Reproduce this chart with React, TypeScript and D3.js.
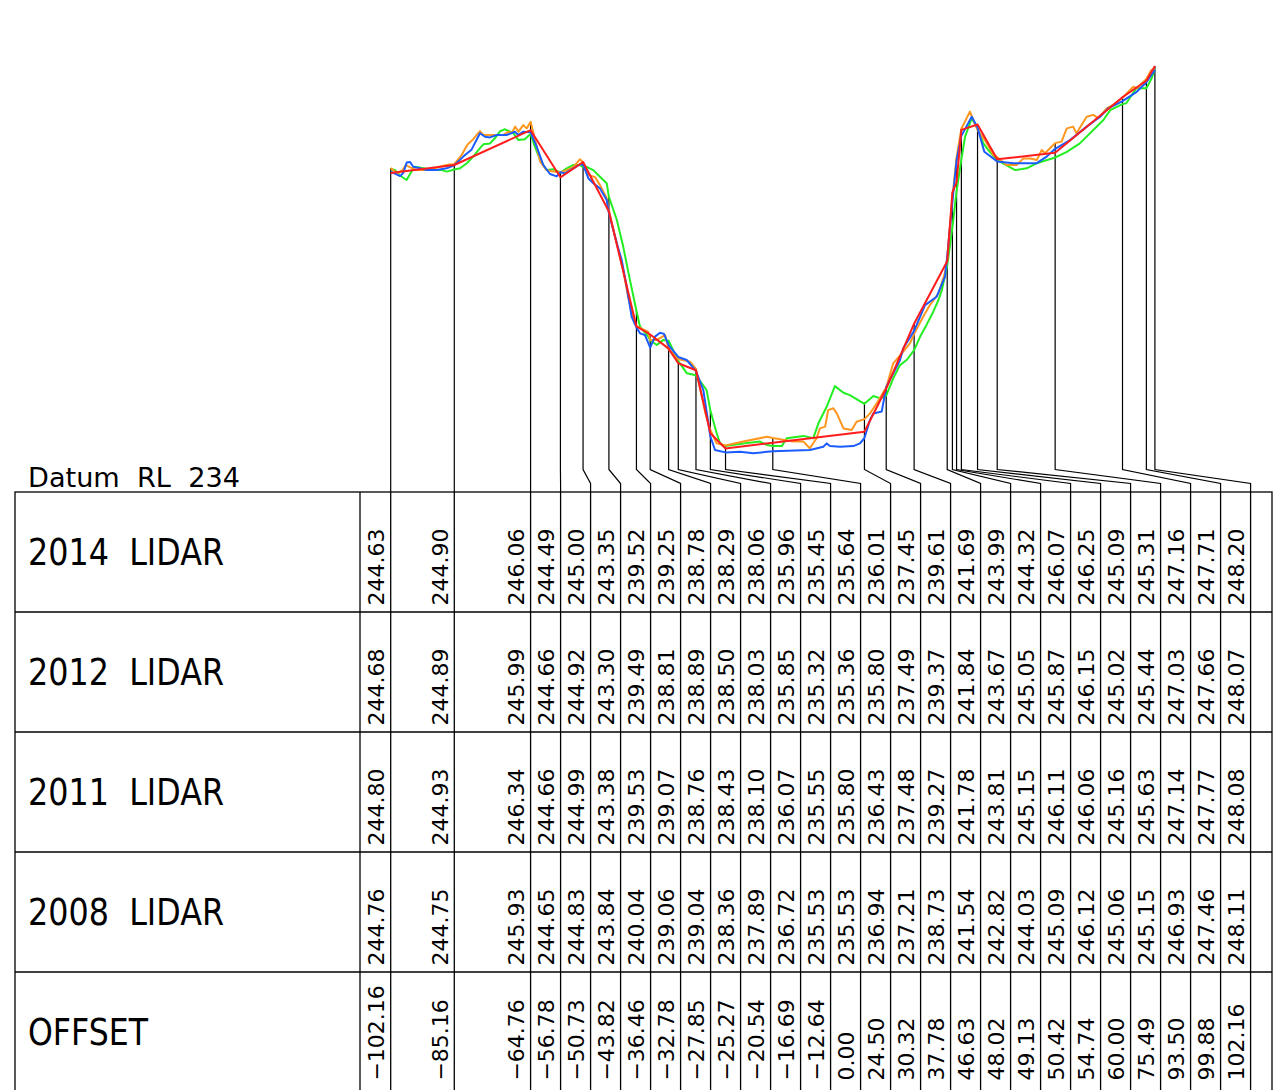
import React from 'react';
import * as d3 from 'd3';

// Offsets (m) of the tabulated stations
const OFFSETS = [-102.16, -85.16, -64.76, -56.78, -50.73, -43.82, -36.46, -32.78, -27.85, -25.27, -20.54, -16.69, -12.64, 0.0, 24.5, 30.32, 37.78, 46.63, 48.02, 49.13, 50.42, 54.74, 60.0, 75.49, 93.5, 99.88, 102.16];

// Tabulated reduced levels per survey
const LIDAR_2014 = [244.63, 244.9, 246.06, 244.49, 245.0, 243.35, 239.52, 239.25, 238.78, 238.29, 238.06, 235.96, 235.45, 235.64, 236.01, 237.45, 239.61, 241.69, 243.99, 244.32, 246.07, 246.25, 245.09, 245.31, 247.16, 247.71, 248.2];
const LIDAR_2012 = [244.68, 244.89, 245.99, 244.66, 244.92, 243.3, 239.49, 238.81, 238.89, 238.5, 238.03, 235.85, 235.32, 235.36, 235.8, 237.49, 239.37, 241.84, 243.67, 245.05, 245.87, 246.15, 245.02, 245.44, 247.03, 247.66, 248.07];
const LIDAR_2011 = [244.8, 244.93, 246.34, 244.66, 244.99, 243.38, 239.53, 239.07, 238.76, 238.43, 238.1, 236.07, 235.55, 235.8, 236.43, 237.48, 239.27, 241.78, 243.81, 245.15, 246.11, 246.06, 245.16, 245.63, 247.14, 247.77, 248.08];
const LIDAR_2008 = [244.76, 244.75, 245.93, 244.65, 244.83, 243.84, 240.04, 239.06, 239.04, 238.36, 237.89, 236.72, 235.53, 235.53, 236.94, 237.21, 238.73, 241.54, 242.82, 244.03, 245.09, 246.12, 245.06, 245.15, 246.93, 247.46, 248.11];

// Intermediate profile readings between stations [offset, RL]
const TRACE_2012 = [
  [-99.65, 244.53], [-98.77, 244.64], [-97.89, 244.98], [-97.0, 245.0], [-96.12, 244.84], [-94.33, 244.79], [-92.54, 244.73], [-89.87, 244.73], [-87.19, 244.79],
  [-82.75, 245.18], [-80.51, 245.42], [-78.29, 245.96], [-76.95, 245.84], [-75.61, 245.82], [-73.82, 245.9], [-71.15, 245.9], [-68.93, 246.01], [-68.05, 245.9], [-66.71, 246.01],
  [-63.13, 245.51], [-61.36, 244.9], [-59.57, 244.6], [-57.78, 244.52],
  [-55.56, 244.62], [-53.34, 244.79], [-51.55, 244.92],
  [-49.33, 244.46], [-47.99, 244.29], [-46.2, 244.12], [-44.41, 243.73],
  [-42.65, 242.73], [-41.31, 242.12], [-40.4, 241.73], [-39.06, 240.84], [-37.73, 239.84],
  [-35.51, 239.29], [-34.17, 239.23],
  [-31.5, 239.18], [-30.16, 239.31], [-29.09, 239.27],
  [-25.7, 238.57], [-23.02, 238.4],
  [-18.58, 237.4],
  [-15.45, 235.4],
  [-8.77, 235.34], [-5.21, 235.29],
  [9.95, 235.4], [13.5, 235.51], [14.41, 235.62], [15.29, 235.53], [17.97, 235.51], [21.52, 235.53], [23.32, 235.62],
  [25.99, 236.4], [26.87, 236.62], [29.12, 236.68],
  [32.22, 237.96], [34.01, 238.4], [34.89, 238.79],
  [40.7, 240.23], [43.82, 240.51], [46.04, 241.18],
  [53.18, 246.51],
  [56.55, 245.34],
  [64.3, 244.96], [70.56, 244.96], [73.24, 245.18],
  [79.47, 245.73], [83.93, 246.18], [87.49, 246.51], [89.71, 246.79],
  [97.3, 247.34],
];
const TRACE_2011 = [
  [-100.4, 244.62], [-99.0, 244.73], [-98.1, 244.9], [-97.1, 244.83], [-95.2, 244.73], [-92.5, 244.73], [-89.0, 244.84], [-87.2, 244.9],
  [-83.2, 245.23], [-81.7, 245.57], [-80.1, 245.76], [-78.3, 246.03], [-77.4, 245.9], [-74.7, 245.9], [-72.1, 245.9], [-70.7, 246.01], [-69.8, 245.96], [-68.9, 246.18], [-68.0, 246.01], [-66.7, 246.23], [-65.8, 246.12],
  [-63.1, 245.51], [-62.2, 245.01], [-60.5, 244.73], [-58.7, 244.68],
  [-55.1, 244.73], [-53.3, 244.84], [-51.6, 245.09],
  [-49.3, 244.57], [-47.5, 244.49], [-46.2, 244.23], [-44.4, 243.79],
  [-40.0, 241.4], [-38.7, 240.51], [-36.9, 239.62],
  [-33.3, 239.34],
  [-31.0, 239.07], [-28.8, 239.23],
  [-22.1, 238.34],
  [-18.0, 236.62],
  [-15.0, 235.62],
  [-7.9, 235.68], [-1.6, 235.84],
  [5.5, 235.68], [8.2, 235.68], [9.9, 235.46], [11.7, 235.79], [12.6, 236.12], [14.0, 236.18], [14.8, 236.73], [16.2, 236.79], [17.1, 236.62], [18.9, 236.12], [21.1, 236.07], [22.4, 236.34],
  [26.0, 236.62], [27.8, 236.96],
  [32.2, 238.29], [34.5, 238.62], [36.7, 238.96],
  [40.2, 239.84], [42.0, 240.23], [44.3, 240.62], [46.0, 241.29],
  [52.7, 246.68],
  [56.7, 245.73], [59.0, 245.23],
  [62.5, 244.9], [65.2, 244.9], [67.0, 245.12], [68.8, 245.12], [70.6, 245.07], [71.9, 245.4], [72.8, 245.29], [74.1, 245.46],
  [77.2, 245.68], [78.6, 246.12], [80.3, 246.18], [81.2, 245.96], [83.9, 246.51], [85.7, 246.57], [87.0, 246.46], [89.3, 246.79], [91.0, 246.9],
  [96.4, 247.51], [97.3, 247.46],
  [101.2, 248.07],
];
const TRACE_2008 = [
  [-101.0, 244.73], [-99.7, 244.55], [-97.9, 244.4], [-96.6, 244.68], [-95.7, 244.84], [-93.4, 244.79], [-90.8, 244.73], [-88.5, 244.73], [-87.2, 244.68],
  [-83.6, 244.79], [-81.8, 244.96], [-80.1, 245.18], [-78.3, 245.46], [-77.4, 245.59], [-75.6, 245.62], [-74.3, 245.79], [-72.9, 246.03], [-71.6, 246.09], [-69.4, 245.96], [-68.0, 245.73], [-66.3, 245.76],
  [-63.6, 245.51], [-62.2, 245.07], [-60.5, 244.73], [-58.7, 244.76],
  [-55.1, 244.79], [-53.3, 244.9], [-51.6, 244.9],
  [-49.8, 244.84], [-48.0, 244.73], [-46.2, 244.51], [-44.4, 244.29],
  [-41.7, 243.07], [-40.0, 242.18], [-38.2, 241.07],
  [-35.5, 239.51], [-33.3, 239.18],
  [-31.0, 238.9], [-29.3, 239.07],
  [-23.0, 237.96],
  [-17.7, 237.4],
  [-15.0, 235.96], [-14.1, 235.62],
  [-7.9, 235.62], [-3.4, 235.68], [-1.6, 235.57],
  [2.4, 235.53], [3.7, 235.79], [8.2, 235.87], [10.8, 235.79], [12.2, 236.29], [14.4, 236.84], [16.6, 237.53], [18.9, 237.31], [20.6, 237.23],
  [26.9, 237.2], [28.7, 237.12],
  [32.2, 237.79], [34.0, 238.23], [35.8, 238.4],
  [39.4, 239.18], [41.1, 239.57], [42.9, 240.01], [44.3, 240.4], [45.2, 240.73],
  [51.4, 245.84], [53.2, 246.46],
  [56.3, 245.62], [57.6, 245.4],
  [64.8, 244.73], [67.9, 244.79], [70.6, 244.96],
  [78.6, 245.34], [82.1, 245.62], [88.4, 246.4], [90.2, 246.73],
  [94.5, 246.96], [97.2, 247.46],
  [101.3, 247.79],
];

const ROW_LABELS = ['2014  LIDAR', '2012  LIDAR', '2011  LIDAR', '2008  LIDAR', 'OFFSET'];
const DATUM = 234;

const FONT = '"DejaVu Sans", sans-serif';

function mergeSeries(vals: number[], trace: number[][]): [number, number][] {
  const pts: [number, number][] = OFFSETS.map((o, i) => [o, vals[i]]);
  trace.forEach((p) => pts.push([p[0], p[1]]));
  return pts.sort((a, b) => a[0] - b[0]);
}

export default function App() {
  const W = 1278;
  const H = 1090;
  const tableTop = 492;
  const rowH = 120;
  const tableLeft = 15;
  const labelRight = 360;
  const tableRight = 1272;
  const tableBottom = tableTop + rowH * 5;
  const minCol = 30;
  const bendTop = 469.5;
  const bendBottom = 483.5;

  const x = d3.scaleLinear().domain([-102.16, 102.16]).range([390.7, 1154.9]);
  const y = d3.scaleLinear().domain([DATUM, 248.2]).range([tableTop, 66]);
  const line = d3
    .line<[number, number]>()
    .x((d) => x(d[0]))
    .y((d) => y(d[1]));

  const fmt = d3.format('.2f');

  // table column positions: real position, spread to a minimum width
  const colX: number[] = [];
  OFFSETS.forEach((o, i) => {
    const rx = x(o);
    colX.push(i === 0 ? rx : Math.max(rx, colX[i - 1] + minCol));
  });

  const series = [
    { name: '2008', d: mergeSeries(LIDAR_2008, TRACE_2008), color: '#22ee22' },
    { name: '2011', d: mergeSeries(LIDAR_2011, TRACE_2011), color: '#ff961e' },
    { name: '2012', d: mergeSeries(LIDAR_2012, TRACE_2012), color: '#1a5cff' },
    { name: '2014', d: OFFSETS.map((o, i) => [o, LIDAR_2014[i]] as [number, number]), color: '#ff1c1c' },
  ];

  const rows = [LIDAR_2014, LIDAR_2012, LIDAR_2011, LIDAR_2008];

  return (
    <svg
      width={W}
      height={H}
      viewBox={`0 0 ${W} ${H}`}
      style={{ position: 'absolute', left: 0, top: 0, background: '#fff' }}
      fontFamily={FONT}
    >
      <rect x={0} y={0} width={W} height={H} fill="#fff" />

      {/* leader lines */}
      <g stroke="#000" strokeWidth={1.2} fill="none">
        {OFFSETS.map((o, i) => {
          const top = Math.max(LIDAR_2014[i], LIDAR_2012[i], LIDAR_2011[i], LIDAR_2008[i]);
          const rx = x(o);
          return (
            <path
              key={i}
              d={`M${rx},${y(top)}V${bendTop}L${colX[i]},${bendBottom}V${tableTop}`}
            />
          );
        })}
      </g>

      {/* profiles */}
      <g fill="none" strokeWidth={2} strokeLinejoin="round">
        {series.map((s) => (
          <path key={s.name} d={line(s.d) || ''} stroke={s.color} />
        ))}
      </g>

      {/* datum */}
      <text x={28} y={487} fontSize={26} textLength={212} lengthAdjust="spacingAndGlyphs" style={{ whiteSpace: 'pre' }}>
        {`Datum  RL  ${DATUM}`}
      </text>

      {/* table grid */}
      <g stroke="#000" strokeWidth={1.3} fill="none">
        <rect x={tableLeft} y={tableTop} width={tableRight - tableLeft} height={tableBottom - tableTop} />
        {[1, 2, 3, 4].map((r) => (
          <line key={r} x1={tableLeft} x2={tableRight} y1={tableTop + r * rowH} y2={tableTop + r * rowH} />
        ))}
        <line x1={labelRight} x2={labelRight} y1={tableTop} y2={tableBottom} />
        {colX.map((cx, i) => (
          <line key={i} x1={cx} x2={cx} y1={tableTop} y2={tableBottom} />
        ))}
      </g>

      {/* row labels */}
      {ROW_LABELS.map((lab, r) => (
        <text
          key={lab}
          x={28}
          y={tableTop + r * rowH + 73}
          fontSize={37}
          textLength={r === 4 ? 120 : 196}
          lengthAdjust="spacingAndGlyphs"
          style={{ whiteSpace: 'pre' }}
        >
          {lab}
        </text>
      ))}

      {/* values */}
      {rows.map((vals, r) =>
        vals.map((v, i) => {
          const tx = colX[i] - 6.5;
          const ty = tableTop + r * rowH + 113.5;
          return (
            <text key={`${r}-${i}`} x={tx} y={ty} fontSize={22} transform={`rotate(-90 ${tx} ${ty})`}>
              {fmt(v)}
            </text>
          );
        })
      )}
      {OFFSETS.map((o, i) => {
        const tx = colX[i] - 6.5;
        const ty = tableTop + 4 * rowH + 108.6;
        return (
          <text key={`o-${i}`} x={tx} y={ty} fontSize={22} transform={`rotate(-90 ${tx} ${ty})`}>
            {fmt(o)}
          </text>
        );
      })}
    </svg>
  );
}
